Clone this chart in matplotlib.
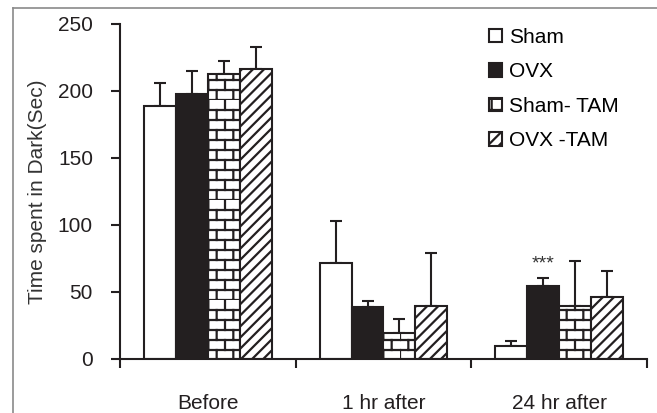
import warnings
import matplotlib

matplotlib.use("Agg")

import numpy as np
import matplotlib.pyplot as plt
from matplotlib import hatch as mhatch
from matplotlib.path import Path
from matplotlib.lines import Line2D

warnings.filterwarnings("ignore")

groups = ["Before", "1 hr after", "24 hr after"]
series = ["Sham", "OVX", "Sham- TAM", "OVX -TAM"]
sham = [189, 72, 10]
ovx = [198, 38.6, 54.7]
sham_tam = [213, 19.6, 39.5]
ovx_tam = [216.4, 39.5, 46]
sham_err = [17, 31, 3.7]
ovx_err = [17, 5, 6]
sham_tam_err = [9.6, 10, 33.5]
ovx_tam_err = [16.4, 39.8, 19.7]
yticks = [0, 50, 100, 150, 200, 250]


# brick pattern, not in matplotlib's hatch set
class BrickHatch(mhatch.HatchPatternBase):
    def __init__(self, hatch, density):
        n = hatch.count("b")
        self.rows = n * 10
        self.cols = n * 6
        self.num_lines = self.rows + self.rows * self.cols
        self.num_vertices = self.num_lines * 2

    def set_vertices_and_codes(self, vertices, codes):
        k = 0
        for i in range(self.rows):
            y = i / self.rows
            vertices[k] = (0, y)
            vertices[k + 1] = (1, y)
            k += 2
        for i in range(self.rows):
            off = 0.5 / self.cols if i % 2 else 0.0
            for j in range(self.cols):
                x = j / self.cols + off
                vertices[k] = (x, i / self.rows)
                vertices[k + 1] = (x, (i + 1) / self.rows)
                k += 2
        codes[0::2] = Path.MOVETO
        codes[1::2] = Path.LINETO


mhatch._hatch_types.append(BrickHatch)

plt.rcParams["font.family"] = ["Liberation Sans", "DejaVu Sans"]
plt.rcParams["hatch.linewidth"] = 1.6
plt.rcParams["hatch.color"] = "#231f20"

ink = "#231f20"
fs = 15
fig = plt.figure(figsize=(6.57, 4.13), dpi=100)
ax = fig.add_axes([0.1826, 0.1308, 0.8022, 0.8111])

w = 0.182
start = 0.136
vals = [sham, ovx, sham_tam, ovx_tam]
errs = [sham_err, ovx_err, sham_tam_err, ovx_tam_err]
faces = ["white", ink, "white", "white"]
hatches = [None, None, "b", "///"]
x0 = np.arange(len(groups))
for k in range(4):
    xs = x0 + start + (k + 0.5) * w
    ax.bar(xs, vals[k], width=w, color=faces[k], edgecolor=ink, linewidth=1.5,
           hatch=hatches[k], label=series[k], zorder=2)
    ax.errorbar(xs, vals[k], yerr=[np.zeros(3), errs[k]], fmt="none", ecolor=ink,
                elinewidth=1.5, capsize=4.3, capthick=1.5, zorder=1)

# significance mark over OVX at 24 hr
xs = x0 + start + 1.5 * w
ax.text(xs[2], ovx[2] + ovx_err[2] + 4, "***", ha="center", va="bottom", fontsize=14, color="#333333")

ax.set_xlim(0, 3)
ax.set_ylim(0, 250)
ax.set_yticks(yticks)
ax.set_xticks([0, 1, 2, 3])
ax.set_xticklabels([])
ax.set_xticks(x0 + 0.5, minor=True)
ax.set_xticklabels(groups, minor=True)
ax.tick_params(axis="x", which="major", direction="out", length=6.5, width=1.5, color=ink)
ax.tick_params(axis="x", which="minor", length=0, pad=25, labelsize=fs, labelcolor=ink)
ax.tick_params(axis="y", direction="out", length=6.5, width=1.5, pad=13, labelsize=fs, color=ink, labelcolor=ink)
for s in ["top", "right"]:
    ax.spines[s].set_visible(False)
for s in ["left", "bottom"]:
    ax.spines[s].set_linewidth(1.5)
    ax.spines[s].set_color(ink)
ax.set_ylabel("Time spent in Dark(Sec)", fontsize=fs, color="#333333", labelpad=8)

ax.legend(loc="upper left", bbox_to_anchor=(489 / 657, 1 - 28 / 413), bbox_transform=fig.transFigure,
          frameon=False, fontsize=fs, handlelength=0.6, handleheight=0.6, handletextpad=0.35,
          labelspacing=0.74, borderpad=0, borderaxespad=0)

# gray frame round the picture (top and left edges visible)
fig.add_artist(Line2D([13 / 657, 13 / 657], [0, 1 - 8 / 413], color="#8a8a8a", linewidth=1.2))
fig.add_artist(Line2D([13 / 657, 1], [1 - 8 / 413, 1 - 8 / 413], color="#8a8a8a", linewidth=1.2))

fig.savefig("out.png", dpi=100)
